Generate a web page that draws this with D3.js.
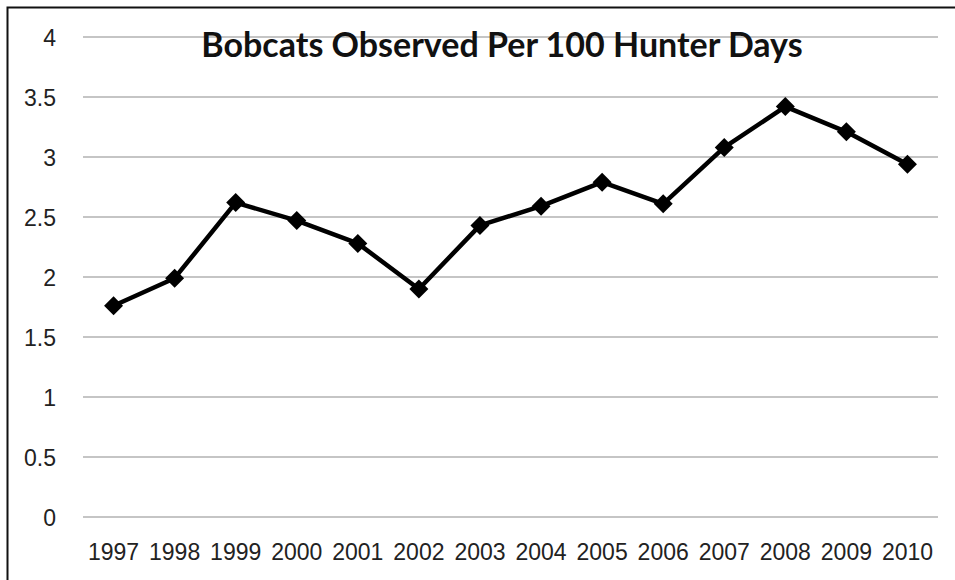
<!DOCTYPE html>
<html lang="en">
<head>
    <meta charset="UTF-8">
    <title>Bobcats Observed Per 100 Hunter Days</title>
    <script src="https://d3js.org/d3.v7.min.js"></script>
    <style>
        body { margin: 0; padding: 0; background: #fff; }
        svg { display: block; font-family: Lato, "Open Sans", sans-serif; }
        .grid line { stroke: #8c8c8c; stroke-width: 1.2px; }
        .tick text { fill: #222; font-size: 23px; }
    </style>
</head>
<body>
<div id="chart"></div>
<script>
    const years = ["1997", "1998", "1999", "2000", "2001", "2002", "2003",
                   "2004", "2005", "2006", "2007", "2008", "2009", "2010"];
    const bobcats = [1.76, 1.99, 2.62, 2.47, 2.28, 1.90, 2.43,
                     2.59, 2.79, 2.61, 3.08, 3.42, 3.21, 2.94];
    const yTicks = [0, 0.5, 1, 1.5, 2, 2.5, 3, 3.5, 4];

    const width = 955, height = 580;
    const plotLeft = 83, plotRight = 938, plotTop = 37, plotBottom = 517;

    const svg = d3.select("#chart").append("svg")
        .attr("width", width)
        .attr("height", height);

    // outer chart border (only left and top visible in the crop)
    svg.append("rect")
        .attr("x", 7.5).attr("y", 7.5)
        .attr("width", 1000).attr("height", 1000)
        .attr("fill", "none")
        .attr("stroke", "#111")
        .attr("stroke-width", 2);

    const x = d3.scaleBand().domain(years).range([plotLeft, plotRight]);
    const y = d3.scaleLinear().domain([0, 4]).range([plotBottom, plotTop]);

    // horizontal gridlines
    svg.append("g").attr("class", "grid")
        .selectAll("line")
        .data(yTicks)
        .enter()
        .append("line")
        .attr("x1", plotLeft).attr("x2", plotRight)
        .attr("y1", d => y(d)).attr("y2", d => y(d));

    // y axis labels
    const yAxis = svg.append("g")
        .attr("transform", `translate(${plotLeft - 27},0)`)
        .call(d3.axisLeft(y).tickValues(yTicks).tickSize(0).tickPadding(0).tickFormat(d => String(d)));
    yAxis.select(".domain").remove();
    yAxis.selectAll("text").attr("dy", "0.35em");

    // x axis labels (baseline placed directly)
    const xAxis = svg.append("g")
        .attr("transform", `translate(0,560)`)
        .call(d3.axisBottom(x).tickSize(0).tickPadding(0));
    xAxis.select(".domain").remove();
    xAxis.selectAll("text").attr("dy", "0");

    // the series line
    const line = d3.line()
        .x((d, i) => x(years[i]) + x.bandwidth() / 2)
        .y(d => y(d));

    svg.append("path")
        .datum(bobcats)
        .attr("d", line)
        .attr("fill", "none")
        .attr("stroke", "#000")
        .attr("stroke-width", 4.5)
        .attr("stroke-linejoin", "round");

    // diamond markers
    svg.append("g")
        .selectAll("path")
        .data(bobcats)
        .enter()
        .append("path")
        .attr("d", d3.symbol().type(d3.symbolDiamond2).size(230))
        .attr("transform", (d, i) => `translate(${x(years[i]) + x.bandwidth() / 2},${y(d)})`)
        .attr("fill", "#000");

    // title
    svg.append("text")
        .attr("x", 502)
        .attr("y", 57)
        .attr("text-anchor", "middle")
        .attr("font-size", 34)
        .attr("font-weight", "bold")
        .attr("fill", "#111")
        .text("Bobcats Observed Per 100 Hunter Days");
</script>
</body>
</html>
